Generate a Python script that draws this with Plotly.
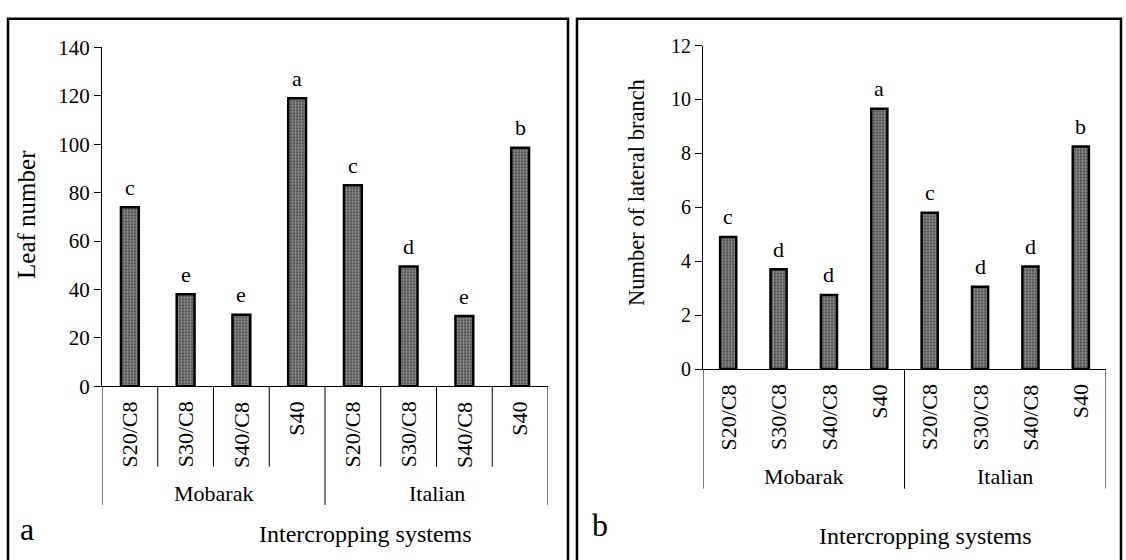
import plotly.graph_objects as go

W, H = 1126, 560
FONT = "Liberation Serif"

systems = ["S20/C8", "S30/C8", "S40/C8", "S40", "S20/C8", "S30/C8", "S40/C8", "S40"]
cultivars = ["Mobarak", "Italian"]
leaf_number = [74, 38, 29.5, 119, 83, 49.5, 29, 98.5]
leaf_letters = ["c", "e", "e", "a", "c", "d", "e", "b"]
lateral_branch = [4.9, 3.7, 2.75, 9.65, 5.8, 3.05, 3.8, 8.25]
branch_letters = ["c", "d", "d", "a", "c", "d", "d", "b"]
xpos = list(range(len(systems)))


def px(x):
    return x / W


def py(y):
    return 1 - y / H


fig = go.Figure()

bar_style = dict(
    color="black",
    line=dict(color="black", width=2.5),
    pattern=dict(shape=".", fgcolor="white", bgcolor="#333333", size=3, solidity=0.6),
)

fig.add_trace(go.Bar(x=xpos, y=leaf_number, width=0.32, marker=bar_style,
                     xaxis="x", yaxis="y", showlegend=False))
fig.add_trace(go.Bar(x=xpos, y=lateral_branch, width=0.32, marker=bar_style,
                     xaxis="x2", yaxis="y2", showlegend=False))

axis_common = dict(showgrid=False, zeroline=False, linecolor="black", linewidth=1)

fig.update_layout(
    width=W, height=H, margin=dict(l=0, r=0, t=0, b=0),
    paper_bgcolor="white", plot_bgcolor="white",
    font=dict(family=FONT, color="black", size=21),
    xaxis=dict(domain=[px(102), px(548)], range=[-0.5, 7.5], showticklabels=False,
               ticks="", showline=True, **axis_common),
    yaxis=dict(domain=[py(391), py(37)], range=[0, 140], dtick=20, ticks="outside",
               ticklen=7, tickcolor="black", showline=True,
               tickfont=dict(family=FONT, size=21), **axis_common),
    xaxis2=dict(domain=[px(703), px(1106)], range=[-0.5, 7.5], showticklabels=False,
                ticks="", showline=True, anchor="y2", **axis_common),
    yaxis2=dict(domain=[py(373), py(35)], range=[0, 12], dtick=2, ticks="outside",
                ticklen=7, tickcolor="black", showline=True, anchor="x2",
                tickfont=dict(family=FONT, size=20), **axis_common),
)

ann = []
shapes = []

panels = [
    dict(xr="x", yr="y", vals=leaf_number, letters=leaf_letters, lab_top=405,
         grp_y=503, grp_bot=515, inner_bot=475, inner=True),
    dict(xr="x2", yr="y2", vals=lateral_branch, letters=branch_letters, lab_top=387,
         grp_y=485, grp_bot=498, inner_bot=None, inner=False),
]

for p in panels:
    yaxis_name = "yaxis" if p["yr"] == "y" else "yaxis2"
    y_bottom_paper = fig.layout[yaxis_name].domain[0]
    for i, (v, t) in enumerate(zip(p["vals"], p["letters"])):
        ann.append(dict(x=xpos[i], y=v, xref=p["xr"], yref=p["yr"], text=t,
                        showarrow=False, yanchor="middle", yshift=20,
                        font=dict(family=FONT, size=22)))
        ann.append(dict(x=xpos[i], y=py(p["lab_top"]), xref=p["xr"], yref="paper",
                        text=systems[i], textangle=-90, showarrow=False,
                        xanchor="center", yanchor="top",
                        font=dict(family=FONT, size=22)))
    for g, name in enumerate(cultivars):
        ann.append(dict(x=g * 4 + 1.5, y=py(p["grp_y"]), xref=p["xr"], yref="paper",
                        text=name, showarrow=False, xanchor="center", yanchor="middle",
                        font=dict(family=FONT, size=22)))
    for b in [-0.5, 3.5, 7.5]:
        shapes.append(dict(type="line", xref=p["xr"], yref="paper", x0=b, x1=b,
                           y0=y_bottom_paper, y1=py(p["grp_bot"]),
                           line=dict(color="black", width=1)))
    if p["inner"]:
        for b in [0.5, 1.5, 2.5, 4.5, 5.5, 6.5]:
            shapes.append(dict(type="line", xref=p["xr"], yref="paper", x0=b, x1=b,
                               y0=y_bottom_paper, y1=py(p["inner_bot"]),
                               line=dict(color="black", width=1)))

# axis titles
ann.append(dict(x=px(27), y=py(212), xref="paper", yref="paper", text="Leaf number",
                textangle=-90, showarrow=False, xanchor="center", yanchor="middle",
                font=dict(family=FONT, size=25)))
ann.append(dict(x=px(637), y=py(189), xref="paper", yref="paper",
                text="Number of lateral branch", textangle=-90, showarrow=False,
                xanchor="center", yanchor="middle", font=dict(family=FONT, size=22.5)))
for cx, cy in [(365, 545), (925, 547)]:
    ann.append(dict(x=px(cx), y=py(cy), xref="paper", yref="paper",
                    text="Intercropping systems", showarrow=False,
                    xanchor="center", yanchor="middle", font=dict(family=FONT, size=24)))
ann.append(dict(x=px(27), y=py(540), xref="paper", yref="paper", text="a",
                showarrow=False, xanchor="center", yanchor="middle",
                font=dict(family=FONT, size=32)))
ann.append(dict(x=px(600), y=py(536), xref="paper", yref="paper", text="b",
                showarrow=False, xanchor="center", yanchor="middle",
                font=dict(family=FONT, size=32)))

# panel borders
for x0, x1 in [(8, 568), (577, 1121)]:
    shapes.append(dict(type="rect", xref="paper", yref="paper", x0=px(x0), x1=px(x1),
                       y0=-0.05, y1=py(7), line=dict(color="black", width=2.5),
                       fillcolor="rgba(0,0,0,0)"))

fig.update_layout(annotations=ann, shapes=shapes)
fig.write_html("out.html")
